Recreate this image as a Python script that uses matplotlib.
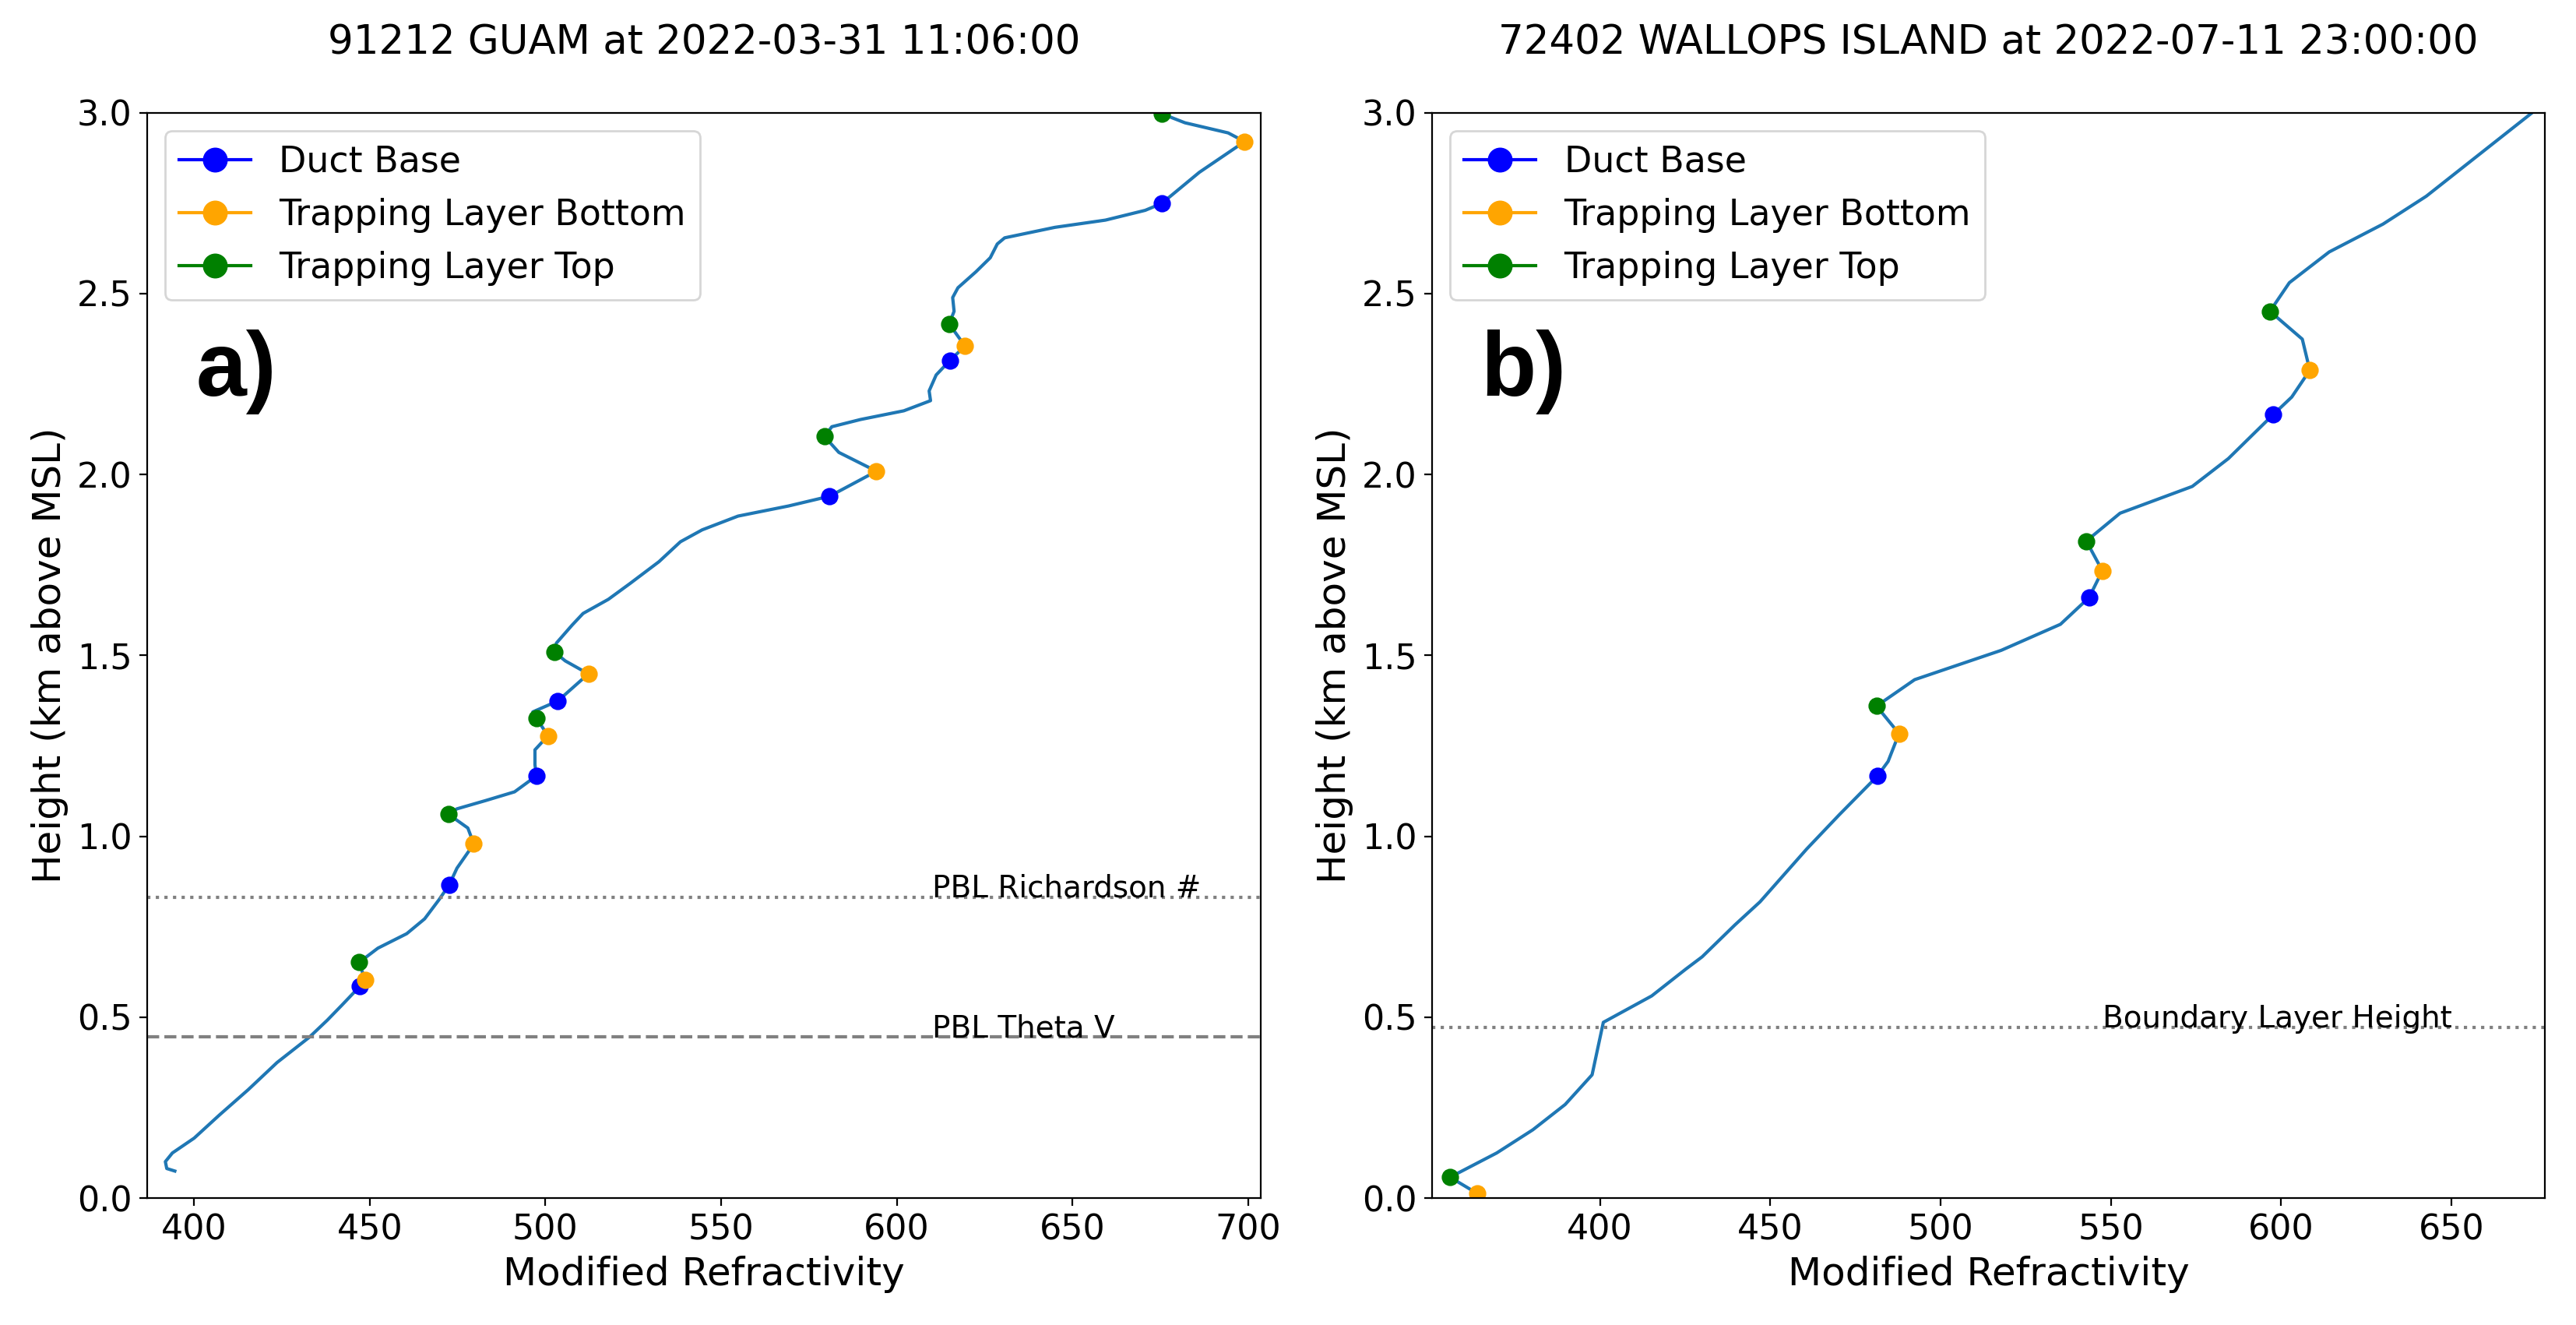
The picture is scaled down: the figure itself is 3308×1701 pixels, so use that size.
import numpy as np
import matplotlib
matplotlib.use("Agg")
import matplotlib.pyplot as plt

# ---------------------------- Panel a) GUAM ----------------------------
guam_title = '91212 GUAM at 2022-03-31 11:06:00'
guam_M = [394.5, 392.2, 391.8, 393.8, 400.0, 407.2, 415.4, 423.6, 432.8, 437.9,
          442.0, 447.2, 448.6, 447.0, 452.3, 460.5, 465.6, 469.7, 472.6, 474.8,
          479.6, 477.9, 472.4, 474.8, 483.0, 491.2, 497.4, 497.0, 497.0, 500.7,
          497.4, 496.4, 503.5, 512.2, 505.6, 502.5, 503.1, 507.6, 510.7, 517.9,
          524.1, 532.3, 538.4, 544.6, 554.8, 569.2, 580.9, 594.2, 583.5, 579.4,
          581.5, 589.7, 602.0, 609.6, 609.2, 611.2, 615.1, 619.4, 614.9, 616.3,
          615.9, 617.4, 622.5, 626.6, 628.6, 630.7, 645.0, 659.4, 670.7, 675.4,
          686.1, 699.0, 694.3, 682.0, 675.4]
guam_z = [0.075, 0.082, 0.101, 0.125, 0.166, 0.230, 0.300, 0.375, 0.445, 0.492,
          0.533, 0.586, 0.603, 0.652, 0.691, 0.731, 0.772, 0.825, 0.866, 0.912,
          0.979, 1.023, 1.061, 1.076, 1.099, 1.123, 1.167, 1.198, 1.239, 1.278,
          1.327, 1.344, 1.374, 1.449, 1.485, 1.510, 1.534, 1.584, 1.616, 1.655,
          1.699, 1.759, 1.814, 1.847, 1.885, 1.913, 1.940, 2.009, 2.061, 2.105,
          2.132, 2.152, 2.176, 2.204, 2.231, 2.275, 2.315, 2.355, 2.416, 2.451,
          2.489, 2.516, 2.560, 2.599, 2.637, 2.654, 2.683, 2.703, 2.730, 2.749,
          2.835, 2.920, 2.944, 2.972, 2.997]
guam_base_M = [447.2, 472.6, 497.4, 503.5, 580.9, 615.1, 675.4]
guam_base_z = [0.586, 0.866, 1.167, 1.374, 1.940, 2.315, 2.749]
guam_bot_M = [448.6, 479.6, 500.7, 512.2, 594.2, 619.4, 699.0]
guam_bot_z = [0.603, 0.979, 1.278, 1.449, 2.009, 2.355, 2.920]
guam_top_M = [447.0, 472.4, 497.4, 502.5, 579.4, 614.9, 675.4]
guam_top_z = [0.652, 1.061, 1.327, 1.510, 2.105, 2.416, 2.997]
guam_pbl_ri = 0.832
guam_pbl_thv = 0.446

# ------------------------ Panel b) WALLOPS ISLAND ----------------------
wal_title = '72402 WALLOPS ISLAND at 2022-07-11 23:00:00'
wal_M = [364.0, 356.0, 369.7, 380.3, 389.8, 397.7, 399.4, 401.0, 415.2, 425.2,
         430.0, 439.6, 447.0, 460.7, 470.2, 481.5, 484.6, 487.8, 481.2, 492.4,
         517.8, 535.2, 543.6, 547.5, 542.8, 552.7, 573.9, 584.5, 597.6, 603.1,
         608.4, 606.2, 596.7, 602.4, 614.1, 629.9, 642.6, 673.3]
wal_z = [0.013, 0.058, 0.125, 0.189, 0.259, 0.341, 0.416, 0.486, 0.559, 0.633,
         0.667, 0.755, 0.819, 0.965, 1.059, 1.167, 1.207, 1.284, 1.360, 1.433,
         1.514, 1.586, 1.660, 1.734, 1.816, 1.893, 1.967, 2.044, 2.165, 2.214,
         2.288, 2.374, 2.451, 2.530, 2.615, 2.692, 2.769, 2.997]
wal_base_M = [481.5, 543.6, 597.6]
wal_base_z = [1.167, 1.660, 2.165]
wal_bot_M = [364.0, 487.8, 547.5, 608.4]
wal_bot_z = [0.013, 1.284, 1.734, 2.288]
wal_top_M = [356.0, 481.2, 542.8, 596.7]
wal_top_z = [0.058, 1.360, 1.816, 2.451]
wal_blh = 0.471


def draw_profile(ax, M, z, base, bot, top, xlim, title, letter):
    ax.plot(M, z, color='tab:blue', lw=1.5)
    # one call per point, so the legend gets line + marker
    groups = [(base, 'blue', 'Duct Base'),
              (bot, 'orange', 'Trapping Layer Bottom'),
              (top, 'green', 'Trapping Layer Top')]
    for (gx, gy), col, lab in groups:
        for i in range(len(gx)):
            ax.plot([gx[i]], [gy[i]], 'o-', color=col, markersize=7,
                    label=lab if i == 0 else None)
    ax.set_xlim(xlim)
    ax.set_ylim(0, 3)
    ax.set_title(title, fontsize=18.5, pad=27)
    ax.set_xlabel('Modified Refractivity', fontsize=18)
    ax.set_ylabel('Height (km above MSL)', fontsize=18)
    ax.tick_params(labelsize=16)
    ax.legend(loc='upper left', fontsize=16.5, markerscale=1.5)
    ax.text(0.044, 0.739, letter, transform=ax.transAxes, fontsize=42,
            fontweight='bold', family='Liberation Sans', va='baseline')


fig = plt.figure(figsize=(16.54, 8.505), dpi=200)
ax1 = fig.add_axes([0.0571, 0.0957, 0.4322, 0.8193])
ax2 = fig.add_axes([0.5559, 0.0957, 0.4320, 0.8193])

draw_profile(ax1, guam_M, guam_z, (guam_base_M, guam_base_z),
             (guam_bot_M, guam_bot_z), (guam_top_M, guam_top_z),
             (386.6, 703.5), guam_title, 'a)')
ax1.axhline(guam_pbl_ri, color='gray', ls=':', lw=1.5)
ax1.axhline(guam_pbl_thv, color='gray', ls='--', lw=1.5)
ax1.text(610, guam_pbl_ri, 'PBL Richardson #', fontsize=14)
ax1.text(610, guam_pbl_thv, 'PBL Theta V', fontsize=14)

draw_profile(ax2, wal_M, wal_z, (wal_base_M, wal_base_z),
             (wal_bot_M, wal_bot_z), (wal_top_M, wal_top_z),
             (350.7, 677.4), wal_title, 'b)')
ax2.axhline(wal_blh, color='gray', ls=':', lw=1.5)
ax2.text(547.5, wal_blh, 'Boundary Layer Height', fontsize=14)

fig.savefig('out.png', dpi=200)
